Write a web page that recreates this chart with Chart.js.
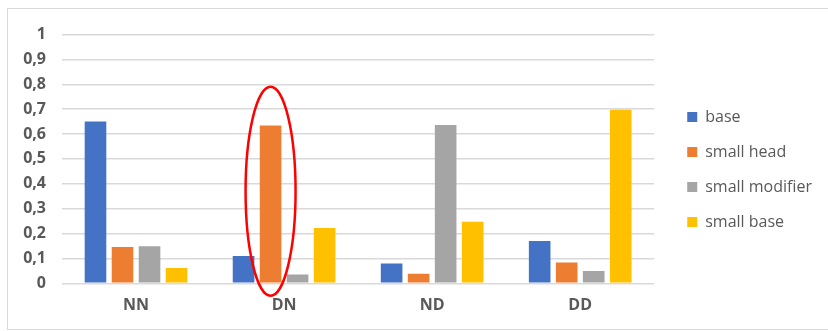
<!DOCTYPE html>
<html>
<head>
<meta charset="utf-8">
<script src="https://cdn.jsdelivr.net/npm/chart.js@4/dist/chart.umd.min.js"></script>
<style>
  html, body { margin: 0; padding: 0; background: #fff; }
  #wrap { position: relative; width: 828px; height: 331px; overflow: hidden; }
  #frame { position: absolute; left: 7px; top: 8px; width: 840px; height: 322px;
           border: 1px solid #d9d9d9; box-sizing: border-box; }
  canvas { position: absolute; left: 0; top: 0; }
</style>
</head>
<body>
<div id="wrap">
  <div id="frame"></div>
  <canvas id="c" width="828" height="331"></canvas>
</div>
<script>
// Compound categories and the share of each variant
const categories = ['NN', 'DN', 'ND', 'DD'];
const seriesNames = ['base', 'small head', 'small modifier', 'small base'];
const baseValues = [0.65, 0.11, 0.08, 0.17];
const smallHeadValues = [0.146, 0.634, 0.038, 0.084];
const smallModifierValues = [0.149, 0.035, 0.636, 0.049];
const smallBaseValues = [0.061, 0.222, 0.247, 0.698];
const tickValues = [0, 0.1, 0.2, 0.3, 0.4, 0.5, 0.6, 0.7, 0.8, 0.9, 1];
const tickLabels = ['0', '0,1', '0,2', '0,3', '0,4', '0,5', '0,6', '0,7', '0,8', '0,9', '1'];
const colors = ['#4472C4', '#ED7D31', '#A5A5A5', '#FFC000'];

// Highlighted group: the "small head" bar of DN, ringed from 0.79 down to -0.05
const highlightCategory = 'DN';
const highlightSeries = 1;
const highlightTop = 0.79;
const highlightBottom = -0.05;

const allSeries = [baseValues, smallHeadValues, smallModifierValues, smallBaseValues];

// Moves the legend block a little away from the plot area
const legendOffset = { x: 14, y: -12 };
const legendShiftPlugin = {
  id: 'legendShift',
  afterLayout(chart) {
    const lg = chart.legend;
    if (!lg) return;
    lg.left += legendOffset.x; lg.right += legendOffset.x;
    lg.top += legendOffset.y; lg.bottom += legendOffset.y;
  }
};

const ringPlugin = {
  id: 'ring',
  afterDatasetsDraw(chart) {
    const meta = chart.getDatasetMeta(highlightSeries);
    const idx = categories.indexOf(highlightCategory);
    const bar = meta.data[idx];
    const y = chart.scales.y;
    const top = y.getPixelForValue(highlightTop);
    const bottom = y.getPixelForValue(highlightBottom);
    const ctx = chart.ctx;
    ctx.save();
    ctx.beginPath();
    ctx.ellipse(bar.x, (top + bottom) / 2, 25, (bottom - top) / 2, 0, 0, Math.PI * 2);
    ctx.strokeStyle = '#ff0000';
    ctx.lineWidth = 2.5;
    ctx.stroke();
    ctx.restore();
  }
};

new Chart(document.getElementById('c'), {
  type: 'bar',
  data: {
    labels: categories,
    datasets: allSeries.map((vals, i) => ({
      label: seriesNames[i],
      data: vals,
      backgroundColor: colors[i],
      borderWidth: 0,
      categoryPercentage: 0.73,
      barPercentage: 0.8
    }))
  },
  options: {
    responsive: false,
    animation: false,
    devicePixelRatio: 1,
    layout: { padding: { left: 0, top: 34.5, right: 20, bottom: 2.5 } },
    plugins: {
      tooltip: { enabled: false },
      legend: {
        position: 'right',
        align: 'center',
        labels: {
          boxWidth: 10,
          boxHeight: 10,
          padding: 19,
          color: '#595959',
          font: { family: 'Open Sans', size: 16 }
        }
      }
    },
    scales: {
      x: {
        grid: { display: false, drawTicks: false },
        border: { display: false },
        ticks: {
          padding: 13,
          color: '#595959',
          font: { family: 'Open Sans', size: 16, weight: 'bold' }
        }
      },
      y: {
        min: 0,
        max: 1,
        afterBuildTicks(scale) {
          scale.ticks = tickValues.map(v => ({ value: v }));
        },
        afterFit(scale) { scale.width = 62; },
        grid: { color: '#d9d9d9', lineWidth: 1.5, drawTicks: false },
        border: { display: false },
        ticks: {
          padding: 16,
          color: '#595959',
          font: { family: 'Open Sans', size: 16, weight: 'bold' },
          callback(value) {
            const i = tickValues.findIndex(t => Math.abs(t - value) < 1e-9);
            return i >= 0 ? tickLabels[i] : '';
          }
        }
      }
    }
  },
  plugins: [ringPlugin, legendShiftPlugin]
});
</script>
</body>
</html>
